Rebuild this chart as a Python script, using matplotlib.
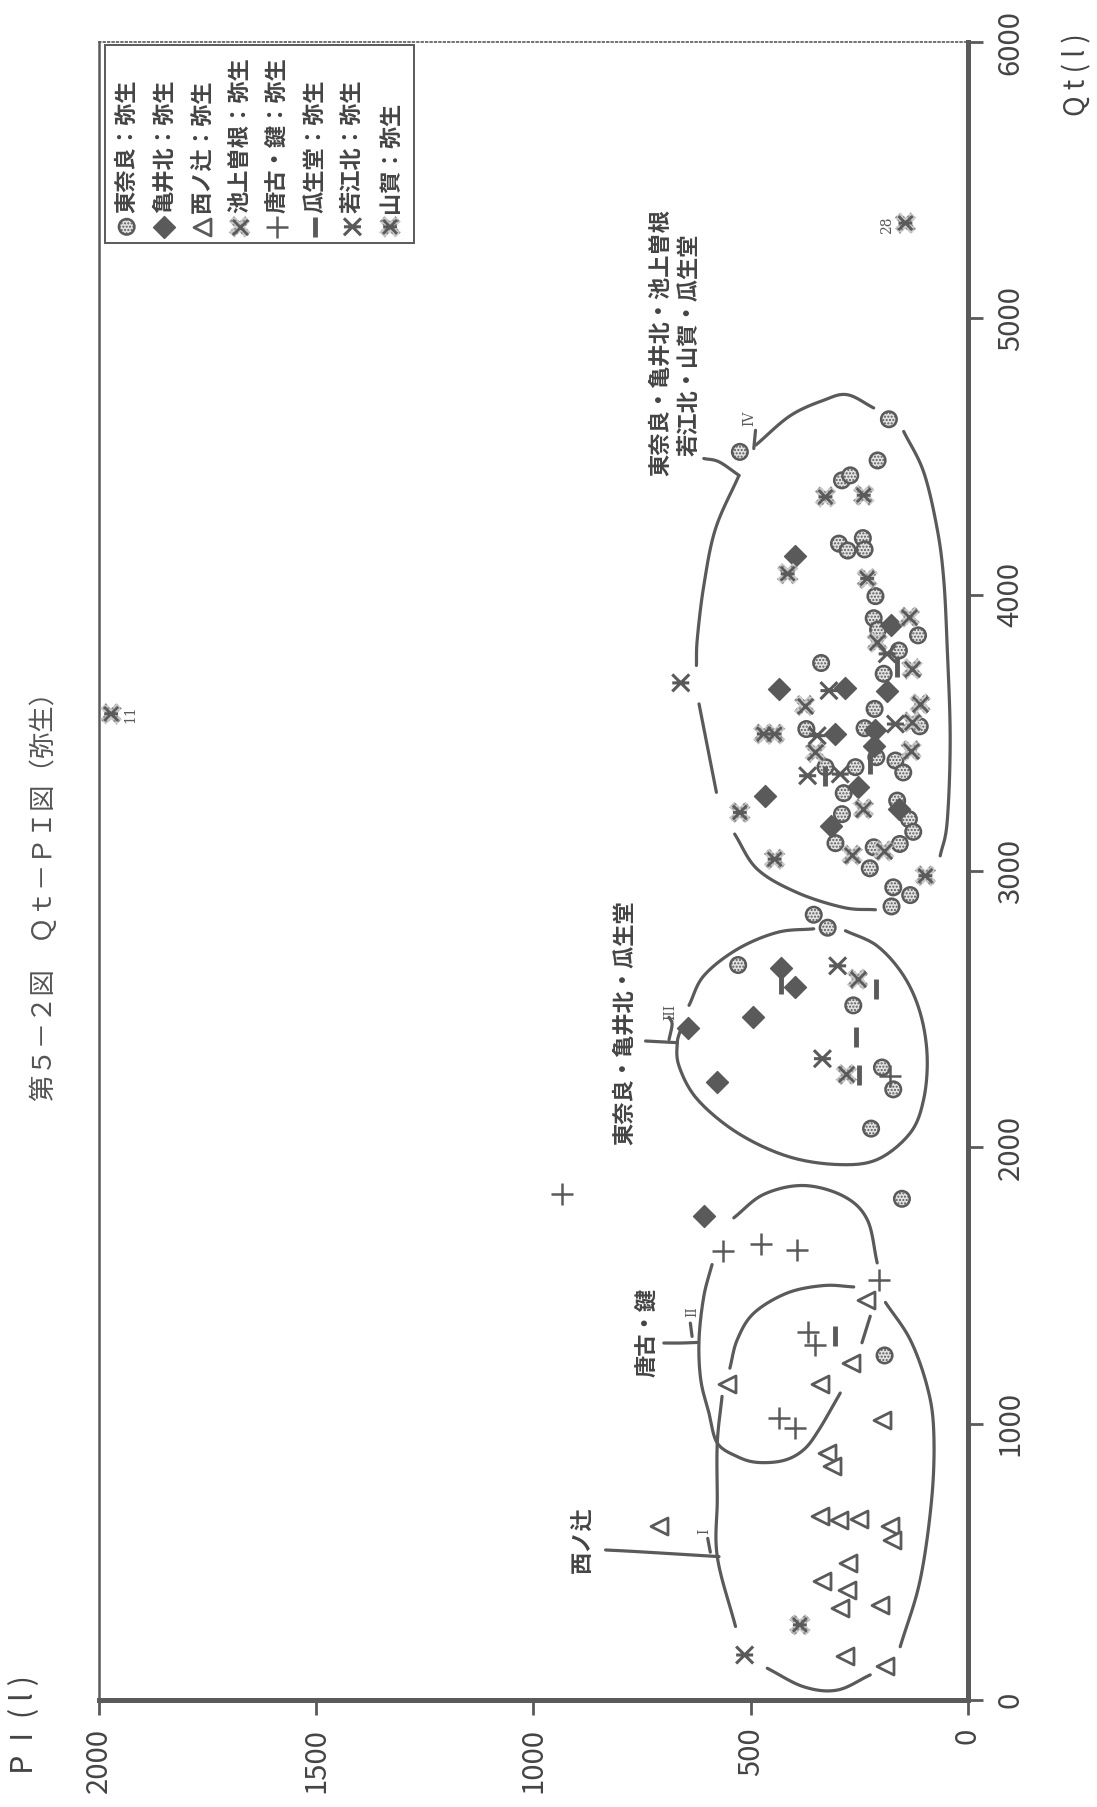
import numpy as np
import matplotlib.pyplot as plt
from matplotlib.path import Path

plt.rcParams['font.family'] = ['Noto Sans CJK JP', 'DejaVu Sans']

GREY = '#5a5a5a'

# --- data: PI (l) and Qt (l) per site ---
higashinara_pi = [152, 192, 355, 323, 529, 264, 198, 172, 223, 176, 172, 133,
                  525, 182, 208, 290, 271, 297, 277, 242, 238, 213, 217, 115,
                  207, 159, 338, 194, 215, 238, 111, 372, 211, 167, 149, 328,
                  259, 286, 163, 136, 126, 290, 305, 217, 157, 226]
higashinara_qt = [1814, 1247, 2842, 2795, 2660, 2514, 2289, 2210, 2068, 2872, 2941, 2913,
                  4517, 4635, 4486, 4414, 4432, 4185, 4160, 4205, 4164, 3995, 3915, 3853,
                  3874, 3798, 3753, 3714, 3587, 3517, 3524, 3514, 3412, 3400, 3357, 3376,
                  3376, 3282, 3255, 3188, 3142, 3206, 3101, 3086, 3098, 3010]

kameikita_pi = [608, 430, 397, 494, 644, 577, 399, 177, 435, 282, 186, 213,
                305, 217, 254, 468, 159, 315]
kameikita_qt = [1753, 2651, 2582, 2473, 2431, 2237, 4142, 3889, 3659, 3662, 3653, 3512,
                3496, 3454, 3303, 3273, 3225, 3164]

nishinotsuji_pi = [234, 270, 554, 341, 199, 324, 313, 711, 340, 297, 251, 179,
                   175, 277, 337, 278, 294, 203, 282, 192]
nishinotsuji_qt = [1447, 1220, 1145, 1145, 1012, 894, 848, 628, 667, 650, 655, 628,
                   580, 495, 429, 399, 332, 344, 159, 123]

ikegami_pi = [254, 280, 135, 209, 376, 110, 129, 129, 351, 131, 241, 267, 194]
ikegami_qt = [2609, 2264, 3919, 3828, 3599, 3605, 3732, 3539, 3430, 3436, 3225, 3058, 3073]

karako_pi = [563, 477, 393, 204, 369, 351, 435, 397, 934, 179]
karako_qt = [1624, 1652, 1628, 1519, 1331, 1286, 1021, 984, 1830, 2258]

uryudo_pi = [306, 431, 212, 257, 251, 163, 225, 330]
uryudo_qt = [1316, 2590, 2575, 2401, 2261, 3738, 3388, 3345]

wakaekita_pi = [514, 300, 335, 661, 320, 186, 167, 347, 369, 294]
wakaekita_qt = [163, 2657, 2321, 3681, 3653, 3786, 3532, 3490, 3345, 3351]

yamaga_pi = [144, 1972, 387, 328, 240, 415, 232, 470, 445, 525, 445, 98]
yamaga_qt = [5345, 3569, 272, 4354, 4360, 4076, 4059, 3496, 3496, 3212, 3043, 2983]

legend_labels = ['東奈良：弥生', '亀井北：弥生', '西ノ辻：弥生', '池上曽根：弥生',
                 '唐古・鍵：弥生', '瓜生堂：弥生', '若江北：弥生', '山賀：弥生']
legend_kinds = ['circle', 'diamond', 'triangle', 'ikegami', 'plus', 'bar', 'wakae', 'yamaga']

# hand drawn enclosures (PI, Qt), each a list of stroke segments
curve_1 = [
    [(263, 1495), (332, 1500), (416, 1473), (493, 1400), (531, 1304), (548, 1201)],
    [(566, 1099), (577, 930), (577, 725), (577, 519), (535, 266)],
    [(462, 115), (378, 48), (301, 36), (225, 91)],
    [(156, 193), (110, 435), (83, 737), (79, 978), (94, 1135), (133, 1304), (190, 1439)],
]
curve_2 = [
    [(539, 1745), (470, 1830), (378, 1862), (286, 1823), (232, 1739), (209, 1582)],
    [(225, 1389), (244, 1293)],
    [(294, 1111), (343, 978), (378, 906), (424, 867), (485, 860), (531, 881), (577, 930),
     (596, 1038), (615, 1159), (619, 1304), (608, 1461), (589, 1576)],
]
curve_3 = [
    [(642, 2514), (608, 2621), (531, 2717), (439, 2778), (355, 2791)],
    [(282, 2784), (209, 2729), (148, 2621), (110, 2487), (94, 2331), (102, 2174),
     (133, 2052), (209, 1956), (301, 1938), (416, 1968), (531, 2053), (623, 2174),
     (665, 2294), (669, 2379), (661, 2427)],
]
curve_4 = [
    [(488, 4542), (409, 4648), (332, 4704), (278, 4724), (217, 4676)],
    [(148, 4591), (102, 4444), (71, 4239), (56, 4058), (48, 3816), (41, 3478),
     (48, 3177), (64, 3055)],
    [(213, 2860), (286, 2868), (393, 2922), (485, 3007), (537, 3134)],
    [(579, 3285), (619, 3605)],
    [(625, 3744), (623, 3840), (608, 4033), (581, 4239), (527, 4432)],
]
leaders = [
    [(527, 4432), (573, 4481), (608, 4493)],
    [(669, 2379), (742, 2385)],
    [(688, 2390), (681, 2446), (688, 2471)],
    [(623, 1294), (661, 1292), (700, 1292)],
    [(635, 1316), (639, 1364)],
    [(573, 519), (761, 537), (834, 543)],
    [(593, 535), (599, 585)],
    [(493, 4529), (489, 4595)],
]


def smooth(pts, n=14):
    p = np.array(pts, float)
    if len(p) < 3:
        return p
    ext = np.vstack([2 * p[0] - p[1], p, 2 * p[-1] - p[-2]])
    out = []
    t = np.linspace(0, 1, n, endpoint=False)[:, None]
    for i in range(1, len(ext) - 2):
        p0, p1, p2, p3 = ext[i - 1:i + 3]
        out.append(0.5 * (2 * p1 + (-p0 + p2) * t + (2 * p0 - 5 * p1 + 4 * p2 - p3) * t ** 2
                          + (-p0 + 3 * p1 - 3 * p2 + p3) * t ** 3))
    out.append(p[-1:])
    return np.vstack(out)


WAKAE = Path([(-1, -1), (1, 1), (-1, 1), (1, -1), (-1, 0), (1, 0)],
             [Path.MOVETO, Path.LINETO, Path.MOVETO, Path.LINETO, Path.MOVETO, Path.LINETO])


def draw(ax, kind, x, y, **kw):
    if kind == 'circle':
        ax.scatter(x, y, s=125, marker='o', facecolor='#e2e2e2', edgecolor=GREY,
                   linewidths=1.8, hatch='.....', zorder=4, **kw)
    elif kind == 'diamond':
        ax.scatter(x, y, s=125, marker='D', color=GREY, zorder=4, **kw)
    elif kind == 'triangle':
        ax.scatter(x, y, s=150, marker='<', facecolor='white', edgecolor=GREY,
                   linewidths=2, zorder=4, **kw)
    elif kind == 'plus':
        ax.scatter(x, y, s=260, marker='+', color=GREY, linewidths=1.8, zorder=4, **kw)
    elif kind == 'bar':
        ax.scatter(x, y, s=200, marker='|', color=GREY, linewidths=3.5, zorder=4, **kw)
    elif kind == 'wakae':
        ax.scatter(x, y, s=150, marker=WAKAE, facecolor='none', edgecolor=GREY,
                   linewidths=2.2, zorder=4, **kw)
    elif kind in ('ikegami', 'yamaga'):
        ax.scatter(x, y, s=240, marker='X', facecolor='#c8c8c8', edgecolor='#8a8a8a',
                   linewidths=0, hatch='....', zorder=4, **kw)
        if kind == 'ikegami':
            ax.scatter(x, y, s=120, marker='x', color=GREY, linewidths=2, zorder=5, **kw)
        else:
            ax.scatter(x, y, s=100, marker=WAKAE, facecolor='none', edgecolor=GREY,
                       linewidths=2, zorder=5, **kw)


fig = plt.figure(figsize=(10.97, 18.07), dpi=100)
ax = fig.add_axes([0.0902, 0.0592, 0.7922, 0.9175])
ax.set_xlim(2000, 0)
ax.set_ylim(0, 6000)

for curve in (curve_1, curve_2, curve_3, curve_4, leaders):
    for seg in curve:
        s = smooth(seg)
        ax.plot(s[:, 0], s[:, 1], color=GREY, lw=2.3, solid_capstyle='round', zorder=2)

draw(ax, 'circle', higashinara_pi, higashinara_qt)
draw(ax, 'diamond', kameikita_pi, kameikita_qt)
draw(ax, 'triangle', nishinotsuji_pi, nishinotsuji_qt)
draw(ax, 'ikegami', ikegami_pi, ikegami_qt)
draw(ax, 'plus', karako_pi, karako_qt)
draw(ax, 'bar', uryudo_pi, uryudo_qt)
draw(ax, 'wakae', wakaekita_pi, wakaekita_qt)
draw(ax, 'yamaga', yamaga_pi, yamaga_qt)

# group labels
lab = dict(rotation=90, ha='center', va='bottom', fontsize=16, fontweight='bold', color='#444444')
ax.text(708, 4431, '東奈良・亀井北・池上曽根', **lab)
ax.text(641, 4503, '若江北・山賀・瓜生堂', **lab)
ax.text(789, 2007, '東奈良・亀井北・瓜生堂', **lab)
ax.text(738, 1170, '唐古・鍵', **lab)
ax.text(887, 460, '西ノ辻', **lab)

rom = dict(rotation=90, ha='center', va='center', fontsize=10, family='DejaVu Serif', color=GREY)
ax.text(504, 4637, 'IV', **rom)
ax.text(685, 2489, 'III', **rom)
ax.text(635, 1406, 'II', **rom)
ax.text(608, 610, 'I', **rom)
ax.text(1927, 3569, '11', **rom)
ax.text(186, 5337, '28', **rom)

# legend drawn sideways like the page
tr = ax.transAxes
ax.add_patch(plt.Rectangle((0.007, 0.8788), 0.3555, 0.1194, transform=tr, fill=False,
                           edgecolor=GREY, lw=1.4, zorder=6))
for i, (name, kind) in enumerate(zip(legend_labels, legend_kinds)):
    xc = 0.0319 + i * 0.0433
    draw(ax, kind, [xc], [0.8886], transform=tr, clip_on=False)
    ax.text(xc, 0.8972, name, transform=tr, rotation=90, ha='center', va='bottom',
            fontsize=16, fontweight='bold', color='#444444', zorder=6)

# axes frame
ax.spines['bottom'].set_linewidth(3.6)
ax.spines['right'].set_linewidth(3.6)
ax.spines['left'].set_linewidth(1.8)
ax.spines['top'].set_linewidth(1.2)
ax.spines['top'].set_linestyle(':')
for sp in ax.spines.values():
    sp.set_color(GREY)

ax.yaxis.tick_right()
ax.set_xticks([0, 500, 1000, 1500, 2000])
ax.set_yticks(range(0, 6001, 1000))
ax.tick_params(axis='x', direction='out', length=11, width=2, colors=GREY,
               labelsize=21, labelrotation=90, pad=9, labelcolor='#444444')
ax.tick_params(axis='y', direction='out', length=11, width=2, colors=GREY,
               labelsize=21, labelrotation=90, pad=9, labelcolor='#444444')
for t in ax.get_yticklabels():
    t.set_va('center')
    t.set_fontstretch('condensed')

fig.text(44 / 1097, 1 - 890 / 1807, '第５－２図　Ｑｔ－ＰＩ図（弥生）', rotation=90,
         ha='center', va='center', fontsize=19, color='#555555')
fig.text(25 / 1097, 1 - 1725 / 1807, 'P  I  ( l )', rotation=90,
         ha='center', va='center', fontsize=22, color='#444444')
fig.text(1077 / 1097, 1 - 75 / 1807, 'Q t ( l )', rotation=90,
         ha='center', va='center', fontsize=20, color='#444444')

fig.savefig('out.png', dpi=100)
